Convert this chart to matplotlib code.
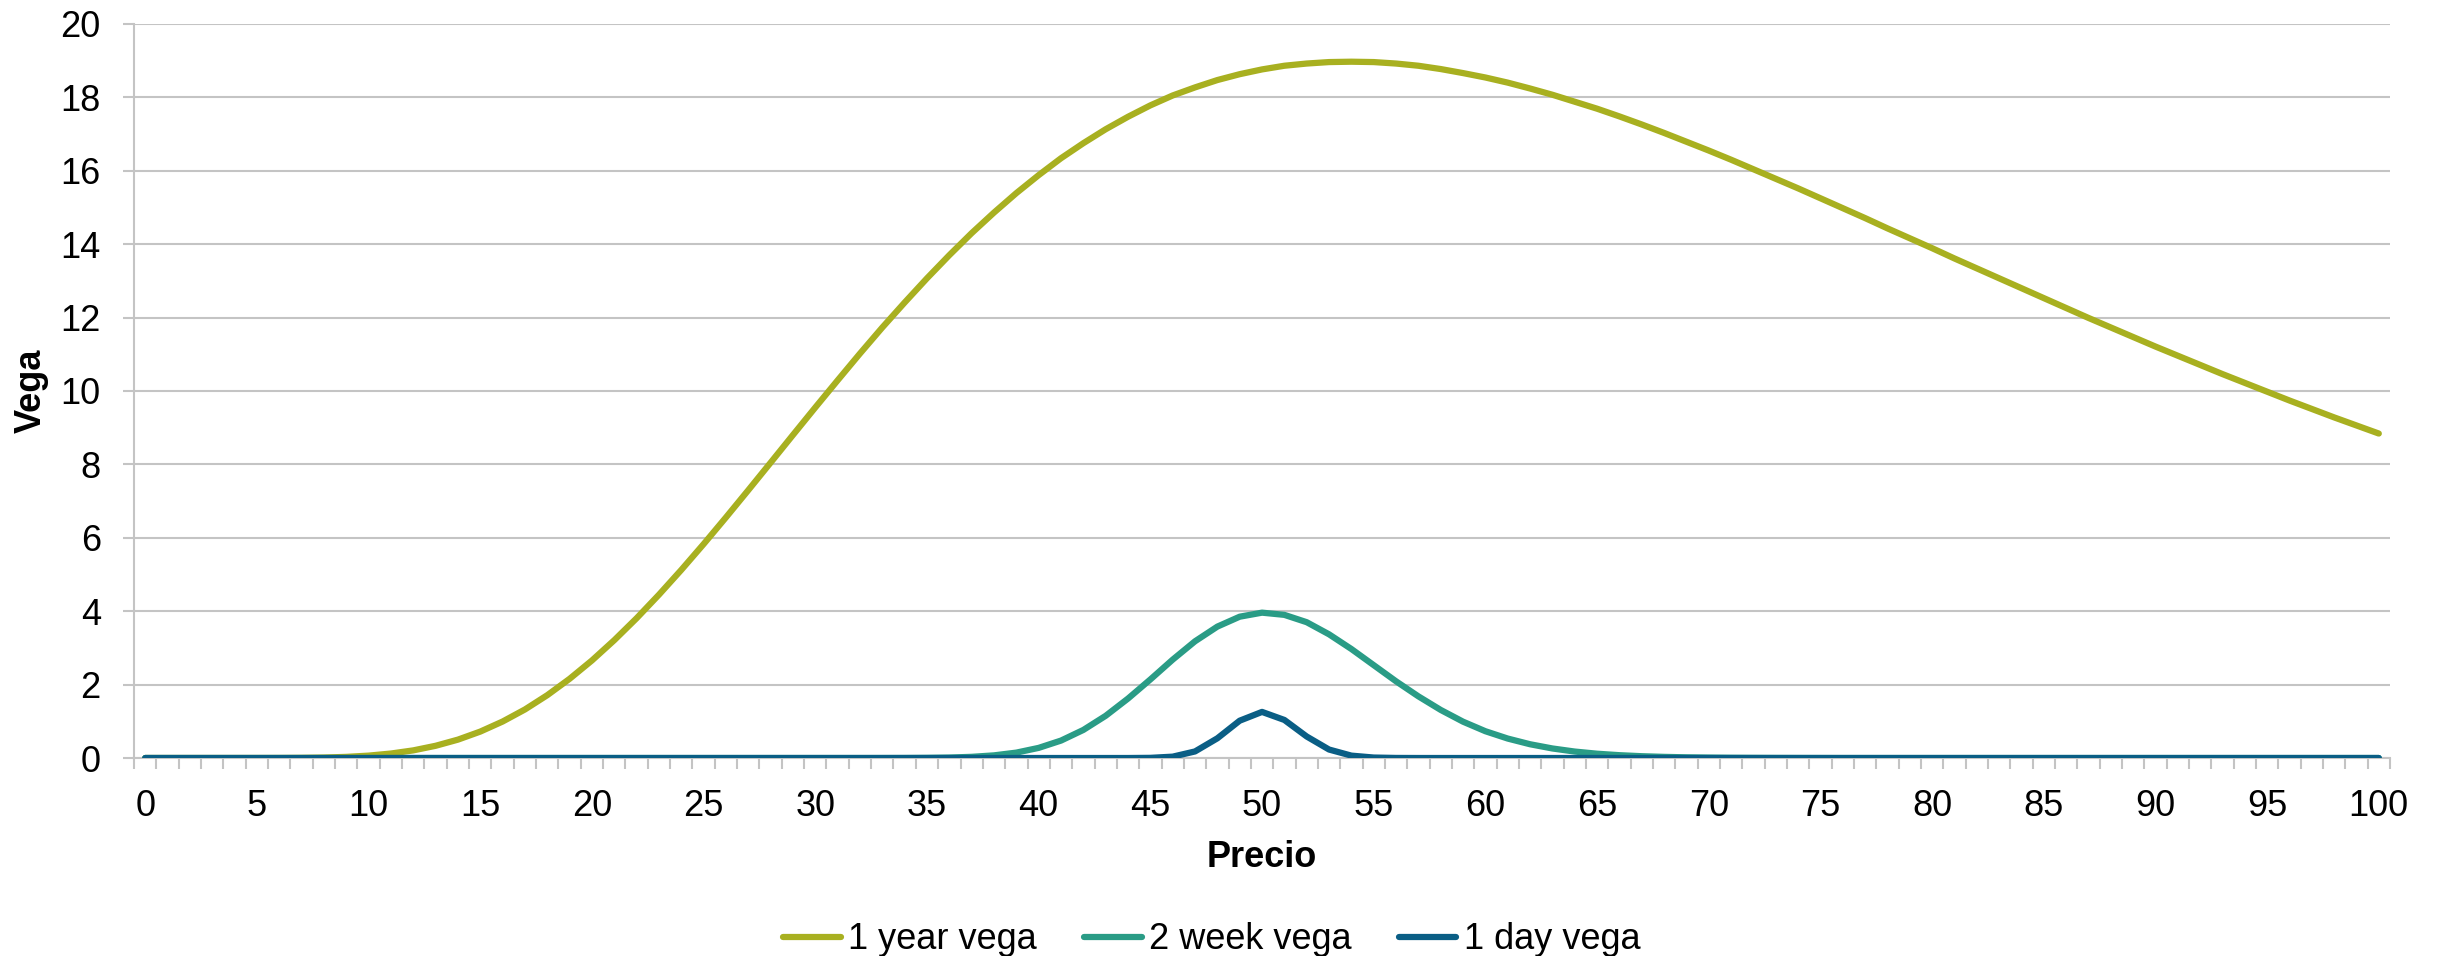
import matplotlib
matplotlib.use('Agg')
import matplotlib.pyplot as plt

plt.rcParams['font.family'] = ['Liberation Sans', 'DejaVu Sans']

# ---- data ----
precio = list(range(101))
tick_labels = [str(v) for v in range(0, 101, 5)]

vega_1year = [
    0, 0, 0, 0, 0, 0.0002, 0.0012, 0.0046, 0.013, 0.031,
    0.065, 0.122, 0.208, 0.333, 0.501, 0.720, 0.994, 1.323, 1.712, 2.158,
    2.658, 3.211, 3.809, 4.450, 5.125, 5.829, 6.556, 7.298, 8.048, 8.802,
    9.551, 10.29, 11.02, 11.73, 12.41, 13.07, 13.70, 14.30, 14.86, 15.39,
    15.88, 16.34, 16.75, 17.13, 17.47, 17.78, 18.05, 18.27, 18.47, 18.63,
    18.76, 18.86, 18.92, 18.96, 18.97, 18.96, 18.92, 18.86, 18.77, 18.66,
    18.54, 18.40, 18.24, 18.07, 17.88, 17.69, 17.48, 17.26, 17.03, 16.79,
    16.55, 16.30, 16.04, 15.78, 15.52, 15.25, 14.98, 14.71, 14.43, 14.16,
    13.89, 13.61, 13.34, 13.07, 12.80, 12.53, 12.26, 11.99, 11.73, 11.47,
    11.21, 10.96, 10.71, 10.46, 10.22, 9.98, 9.74, 9.51, 9.28, 9.06,
    8.84,
]

vega_2week = [
    0, 0, 0, 0, 0, 0, 0, 0, 0, 0,
    0, 0, 0, 0, 0, 0, 0, 0, 0, 0,
    0, 0, 0, 0, 0, 0, 0, 0, 0, 0,
    0, 0, 0, 0.0004, 0.0015, 0.005, 0.013, 0.032, 0.072, 0.147,
    0.276, 0.475, 0.765, 1.15, 1.62, 2.14, 2.68, 3.18, 3.58, 3.85,
    3.96, 3.90, 3.70, 3.37, 2.97, 2.53, 2.09, 1.68, 1.31, 0.99,
    0.73, 0.53, 0.375, 0.26, 0.176, 0.117, 0.077, 0.049, 0.031, 0.019,
    0.012, 0.007, 0.0045, 0.0027, 0.0016, 0.0009, 0, 0, 0, 0,
    0, 0, 0, 0, 0, 0, 0, 0, 0, 0,
    0, 0, 0, 0, 0, 0, 0, 0, 0, 0,
    0,
]

vega_1day = [
    0, 0, 0, 0, 0, 0, 0, 0, 0, 0,
    0, 0, 0, 0, 0, 0, 0, 0, 0, 0,
    0, 0, 0, 0, 0, 0, 0, 0, 0, 0,
    0, 0, 0, 0, 0, 0, 0, 0, 0, 0,
    0, 0, 0, 0, 0.0001, 0.0045, 0.037, 0.179, 0.537, 1.017,
    1.256, 1.037, 0.586, 0.231, 0.065, 0.013, 0.002, 0.0002, 0, 0,
    0, 0, 0, 0, 0, 0, 0, 0, 0, 0,
    0, 0, 0, 0, 0, 0, 0, 0, 0, 0,
    0, 0, 0, 0, 0, 0, 0, 0, 0, 0,
    0, 0, 0, 0, 0, 0, 0, 0, 0, 0,
    0,
]

series_names = ['1 year vega', '2 week vega', '1 day vega']
series_colors = ['#A8B020', '#2A9C86', '#0A5E85']

# ---- figure ----
fig = plt.figure(figsize=(24.38, 9.56), dpi=100)
ax = fig.add_axes([0.055, 0.2071, 0.9253, 0.7679])

grid_col = '#C4C4C4'
FS = 26
handles = []
for vals, name, col in zip([vega_1year, vega_2week, vega_1day], series_names, series_colors):
    h, = ax.plot(precio, vals, color=col, lw=4.5, solid_capstyle='round',
                 solid_joinstyle='round', label=name, zorder=3)
    handles.append(h)

ax.set_xlim(-0.5, 100.5)
ax.set_ylim(0, 20)
ax.set_yticks(range(0, 21, 2))
ax.yaxis.grid(True, color=grid_col, lw=1.5)
ax.set_axisbelow(True)

for s in ['top', 'right']:
    ax.spines[s].set_visible(False)
for s in ['left', 'bottom']:
    ax.spines[s].set_color(grid_col)
    ax.spines[s].set_linewidth(1.5)

ax.tick_params(axis='y', length=8, width=1.5, color=grid_col, pad=16,
               labelsize=FS, labelcolor='black')

ax.set_xticks([precio[i] for i in range(0, 101, 5)])
ax.set_xticklabels(tick_labels)
ax.set_xticks([p - 0.5 for p in precio] + [precio[-1] + 0.5], minor=True)
ax.tick_params(axis='x', which='major', length=0, pad=22, labelsize=FS,
               labelcolor='black')
ax.tick_params(axis='x', which='minor', length=8, width=1.5, color=grid_col)

fig.text(0.0127, 0.591, 'Vega', rotation=90, fontsize=FS, fontweight='bold',
         ha='center', va='center')
fig.text(0.5177, 0.103, 'Precio', fontsize=FS, fontweight='bold',
         ha='center', va='center')

fig.legend(handles, series_names, loc='center', bbox_to_anchor=(0.497, 0.017),
           ncol=3, frameon=False, fontsize=FS, handlelength=1.6,
           handletextpad=0.2, columnspacing=1.3)

fig.savefig('out.png', dpi=100)
